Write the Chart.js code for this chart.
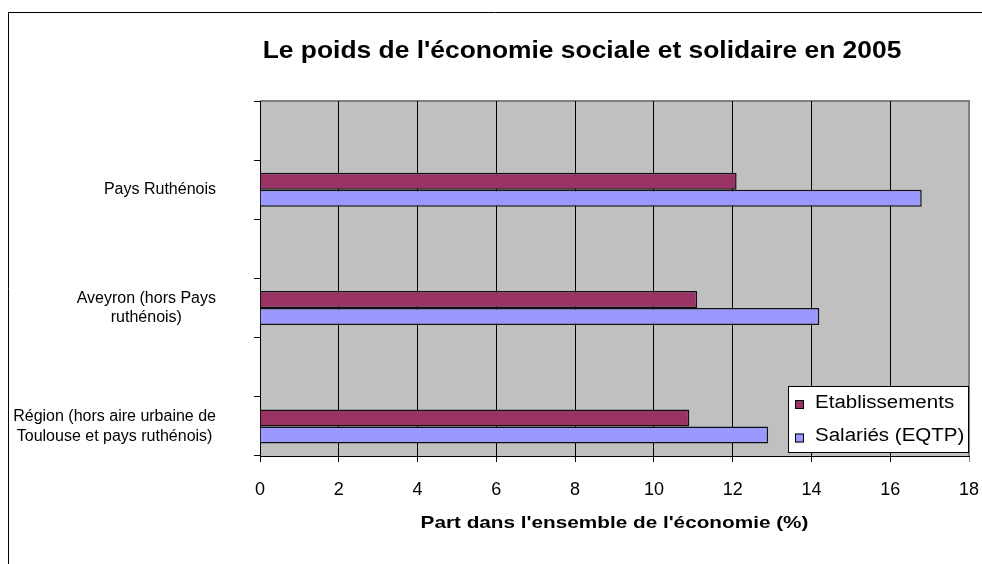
<!DOCTYPE html>
<html>
<head>
<meta charset="utf-8">
<script src="https://cdn.jsdelivr.net/npm/chart.js@4/dist/chart.umd.min.js"></script>
<style>
  html, body { margin: 0; padding: 0; background: #fff; }
  #wrap { width: 982px; height: 564px; }
</style>
</head>
<body>
<div id="wrap"><canvas id="essChart" width="982" height="564"></canvas></div>
<script>
// categories, top to bottom
var categories = [
    'Pays Ruthénois',
    ['Aveyron (hors Pays', 'ruthénois)'],
    ['Région (hors aire urbaine de', 'Toulouse et pays ruthénois)']
];
var etablissements = [12.1, 11.1, 10.9];
var salaries = [16.8, 14.2, 12.9];
var seriesNames = ['Etablissements', 'Salariés (EQTP)'];
var seriesColors = ['#993366', '#9999FF'];
var chartTitle = "Le poids de l'économie sociale et solidaire en 2005";
var xTitle = "Part dans l'ensemble de l'économie (%)";
var xMin = 0, xMax = 18, xStep = 2;

// excel leaves an empty slot above each category
var labels = [], etabSlots = [], salSlots = [];
categories.forEach(function (c, i) {
    labels.push('');
    etabSlots.push(null);
    salSlots.push(null);
    labels.push(c);
    etabSlots.push(etablissements[i]);
    salSlots.push(salaries[i]);
});

var FONT = '"Liberation Sans", Arial, sans-serif';

function stretchText(ctx, text, x, y, font, sx, align) {
    ctx.save();
    ctx.font = font;
    var w = ctx.measureText(text).width * sx;
    var x0 = align === 'center' ? x - w / 2 : x;
    ctx.translate(x0, y);
    ctx.scale(sx, 1);
    ctx.textAlign = 'left';
    ctx.textBaseline = 'middle';
    ctx.fillText(text, 0, 0);
    ctx.restore();
}

var excelLook = {
    id: 'excelLook',
    beforeDraw: function (chart) {
        var ctx = chart.ctx, a = chart.chartArea;
        ctx.save();
        ctx.fillStyle = '#fff';
        ctx.fillRect(0, 0, chart.width, chart.height);
        // outer frame
        ctx.strokeStyle = '#000';
        ctx.lineWidth = 1;
        ctx.beginPath();
        ctx.moveTo(8.5, chart.height);
        ctx.lineTo(8.5, 12.5);
        ctx.lineTo(chart.width, 12.5);
        ctx.stroke();
        // plot area
        ctx.fillStyle = '#C0C0C0';
        ctx.fillRect(a.left, a.top, a.right - a.left, a.bottom - a.top);
        ctx.strokeStyle = '#808080';
        ctx.lineWidth = 2;
        ctx.beginPath();
        ctx.moveTo(a.left, a.top);
        ctx.lineTo(a.right, a.top);
        ctx.lineTo(a.right, a.bottom);
        ctx.stroke();
        ctx.restore();
    },
    afterDraw: function (chart) {
        var ctx = chart.ctx, a = chart.chartArea, ys = chart.scales.y;
        ctx.save();
        ctx.fillStyle = '#000';

        // title
        stretchText(ctx, chartTitle, 582, 51, 'bold 24px ' + FONT, 1.1, 'center');
        // x axis title
        stretchText(ctx, xTitle, (a.left + a.right) / 2, 523, 'bold 17px ' + FONT, 1.22, 'center');

        // category labels: block right aligned, lines centred
        ctx.font = '16px ' + FONT;
        ctx.textAlign = 'center';
        ctx.textBaseline = 'middle';
        chart.data.labels.forEach(function (lab, i) {
            if (!lab) return;
            var lines = Array.isArray(lab) ? lab : [lab];
            var maxW = 0;
            lines.forEach(function (l) { maxW = Math.max(maxW, ctx.measureText(l).width); });
            var yc = ys.getPixelForValue(i);
            var cx = a.left - 44 - maxW / 2;
            lines.forEach(function (l, j) {
                ctx.fillText(l, cx, yc + (j - (lines.length - 1) / 2) * 19.5);
            });
        });

        // legend box
        var bx = a.right - 181, by = a.bottom - 70, bw = 181, bh = 67;
        ctx.fillStyle = '#fff';
        ctx.fillRect(bx, by, bw, bh);
        ctx.strokeStyle = '#000';
        ctx.lineWidth = 1;
        ctx.strokeRect(bx + 0.5, by + 0.5, bw - 1, bh - 1);
        chart.data.datasets.forEach(function (ds, k) {
            var ry = by + 17 + k * 33.5;
            ctx.fillStyle = ds.backgroundColor;
            ctx.fillRect(bx + 7, ry - 3, 9, 9);
            ctx.strokeRect(bx + 7.5, ry - 2.5, 8, 8);
            ctx.fillStyle = '#000';
            stretchText(ctx, ds.label, bx + 27, ry, '18px ' + FONT, 1.14, 'left');
        });
        ctx.restore();
    }
};

new Chart(document.getElementById('essChart'), {
    type: 'bar',
    data: {
        labels: labels,
        datasets: [{
            label: seriesNames[0],
            data: etabSlots,
            backgroundColor: seriesColors[0],
            borderColor: '#111',
            borderWidth: 1.5,
            categoryPercentage: 0.575,
            barPercentage: 1
        }, {
            label: seriesNames[1],
            data: salSlots,
            backgroundColor: seriesColors[1],
            borderColor: '#111',
            borderWidth: 1.5,
            categoryPercentage: 0.575,
            barPercentage: 1
        }]
    },
    options: {
        indexAxis: 'y',
        responsive: false,
        animation: false,
        devicePixelRatio: 1,
        layout: { padding: { left: 0, right: 0, top: 101, bottom: 0 } },
        plugins: {
            legend: { display: false },
            title: { display: false },
            tooltip: { enabled: false }
        },
        scales: {
            x: {
                type: 'linear',
                min: xMin,
                max: xMax,
                ticks: {
                    stepSize: xStep,
                    color: '#000',
                    padding: 17,
                    font: { family: FONT, size: 18 }
                },
                grid: {
                    color: function (c) { return c.tick && c.tick.value === xMax ? '#808080' : '#000'; },
                    lineWidth: 1,
                    tickLength: 6
                },
                border: { color: '#000', width: 1 },
                afterFit: function (s) {
                    s.height = 108;
                    s.paddingLeft = 0;
                    s.paddingRight = 13;
                }
            },
            y: {
                type: 'category',
                ticks: { display: false },
                grid: {
                    drawOnChartArea: false,
                    offset: true,
                    color: '#000',
                    tickLength: 6
                },
                border: { color: '#000', width: 1 },
                afterFit: function (s) {
                    s.width = 260;
                    s.paddingTop = 0;
                    s.paddingBottom = 0;
                }
            }
        }
    },
    plugins: [excelLook]
});
</script>
</body>
</html>
